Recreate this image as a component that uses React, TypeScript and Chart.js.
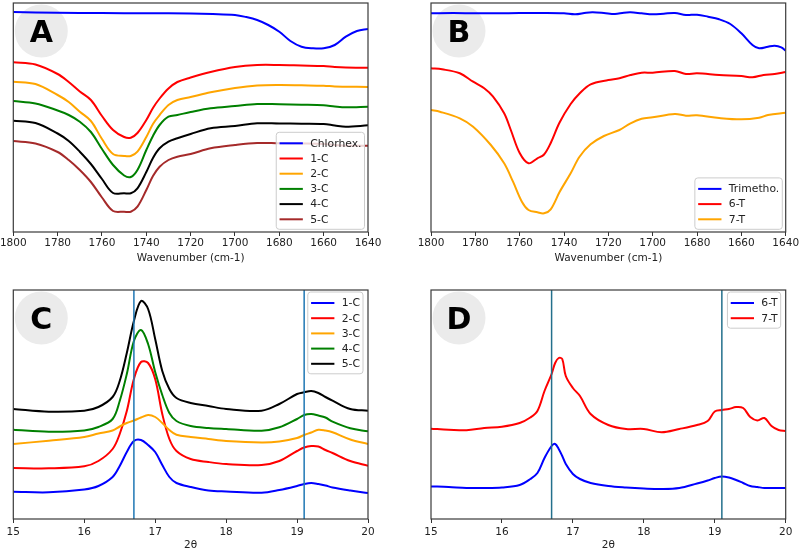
import React, { useEffect, useRef } from "react";
import { Chart, registerables } from "chart.js";
Chart.register(...registerables);

// ---------- Panel A: FTIR, chlorhexidine series ----------
const wnTicks = [1640, 1660, 1680, 1700, 1720, 1740, 1760, 1780, 1800];
const chlorhexWn = [1800, 1780, 1760, 1740, 1720, 1710, 1700, 1695, 1690, 1685, 1680, 1675, 1670, 1665, 1660, 1655, 1650, 1645, 1640];
const chlorhexVals = [220, 219.3, 219, 218.7, 218.5, 218, 217, 215, 212, 207, 200.3, 191, 185.3, 183.7, 183.7, 187, 195.3, 201, 203];
const cWn = [1800, 1790, 1780, 1775, 1770, 1765, 1760, 1755, 1750, 1747, 1744, 1740, 1737, 1734, 1730, 1726, 1720, 1711, 1700, 1690, 1680, 1670, 1660, 1655, 1650, 1640];
const ir1C = [169.7, 167.5, 158, 150, 140.5, 132, 116, 102, 95, 94.3, 99, 112, 124, 133.5, 143.5, 150, 154.5, 160, 165, 167, 167, 166.5, 166, 165, 164.5, 164.3];
const ir2C = [150.3, 148, 137, 130, 120.3, 111, 93, 78, 76, 76, 80.3, 95, 108, 117, 127, 132, 135, 139.7, 144, 146.5, 147, 146.7, 146.3, 145.5, 145.3, 145];
const ir3C = [131, 128.5, 121.5, 117, 110.3, 100, 83, 67, 56.5, 55, 62, 82, 96, 107, 115.3, 117, 120, 123.7, 126, 128, 127.7, 127.3, 126.7, 125.5, 124.7, 125.3];
const ir4C = [111.3, 109, 98.5, 91, 80.3, 68, 53, 39, 38.7, 38.7, 43.7, 60, 74, 83.7, 90.3, 93.7, 98, 103.7, 106, 108.7, 108.5, 108.3, 108, 106.5, 105.3, 106.7];
const ir5C = [91, 88.5, 80, 72, 62, 50, 34.5, 21, 20.3, 20.3, 25.3, 42, 56, 65.3, 72, 75.3, 78, 83.7, 87, 89, 88.7, 88.5, 88, 87, 86.3, 86.3];

// ---------- Panel B: FTIR, trimethoprim series ----------
const trimethoWn = [1800, 1790, 1780, 1770, 1760, 1750, 1740, 1735, 1730, 1727, 1722, 1717, 1713, 1710, 1705, 1700, 1695, 1690, 1685, 1680, 1675, 1670, 1665, 1660, 1655, 1652, 1648, 1645, 1642, 1640];
const trimethoVals = [218.7, 219, 218.7, 218.7, 219, 219, 218.7, 217.7, 219.3, 219.7, 219, 218, 219.3, 219.7, 218.7, 217.7, 218.3, 219, 217, 217.3, 215.3, 212.7, 208, 198.7, 187, 183.7, 185.3, 186.3, 184.7, 181.3];
const t6Wn = [1800, 1795, 1787, 1781, 1776, 1772, 1767, 1764, 1760, 1756, 1752, 1749, 1746, 1742, 1737, 1733, 1728, 1720, 1715, 1710, 1705, 1700, 1690, 1685, 1680, 1670, 1660, 1655, 1650, 1645, 1640];
const ir6T = [163.7, 162.7, 158.7, 150.3, 143.7, 135.3, 118.7, 102, 79, 68.7, 73.7, 77.5, 89, 109.5, 128, 138.5, 147.7, 152, 153.7, 157, 159.3, 159.3, 161, 158, 158.7, 157, 156, 154.7, 157, 158, 160];
const t7Wn = [1800, 1796, 1787, 1781, 1773, 1767, 1763, 1759, 1756, 1752, 1749, 1746, 1742, 1737, 1733, 1728, 1722, 1715, 1710, 1705, 1700, 1690, 1685, 1680, 1670, 1660, 1652, 1648, 1640];
const ir7T = [122, 120.3, 113.7, 105.3, 87, 68.7, 50.3, 30.3, 22, 19.7, 18.7, 22.7, 40, 58.7, 75.3, 87.7, 96, 102, 108.7, 113.3, 114.7, 118, 116.3, 116.7, 114, 112.7, 114.3, 117, 119.3];

// ---------- Panel C: XRD, chlorhexidine series ----------
const thetaTicks = [15, 16, 17, 18, 19, 20];
const refLines = [16.7, 19.1];
const thetaC = [15, 15.5, 16, 16.2, 16.4, 16.5, 16.6, 16.7, 16.8, 16.9, 17, 17.1, 17.2, 17.3, 17.5, 17.75, 18, 18.5, 18.75, 19, 19.1, 19.2, 19.3, 19.4, 19.5, 19.75, 20];
const xrd1C = [27.3, 26.7, 29.5, 33, 42, 53, 67, 78, 79, 74, 67, 54, 42, 36, 32, 28.5, 27.5, 26.3, 29, 33, 35, 36, 35, 33.5, 31.5, 28.5, 26];
const xrd2C = [51, 50.7, 52.7, 58, 70, 85, 108, 140, 157, 156, 140, 105, 80, 68, 60, 57, 55, 54, 58, 68, 71.5, 73, 72.5, 69, 66, 58, 53.3];
const xrd3C = [75, 78.3, 82, 85.5, 88.5, 92.5, 96, 98.5, 101.5, 104, 102, 96, 89, 84.3, 82, 80, 78, 76.5, 77.5, 81, 84, 86.5, 89.3, 88.5, 86.7, 79.5, 75];
const xrd4C = [89.3, 87.3, 88.5, 92, 100, 118, 145, 178, 189, 175, 147, 124, 106, 98, 93, 91, 90, 88.3, 91.7, 100, 104, 105, 103.5, 101.5, 97.3, 90.7, 87.7];
const xrd5C = [110, 107.3, 108.3, 112, 122, 138, 166, 198, 218, 210, 180, 148, 130, 121, 116, 113, 110, 108.3, 115, 125, 126.7, 128, 126, 122, 118.3, 110, 108.3];

// ---------- Panel D: XRD, trimethoprim series ----------
const thetaD = [15, 15.25, 15.5, 15.75, 16, 16.25, 16.4, 16.5, 16.6, 16.7, 16.75, 16.8, 16.85, 16.9, 17, 17.1, 17.25, 17.5, 17.75, 18, 18.25, 18.5, 18.75, 18.9, 19, 19.1, 19.2, 19.3, 19.4, 19.5, 19.6, 19.7, 19.8, 19.9, 20];
const xrd6T = [32.6, 32, 31, 31, 31.6, 34, 40, 46, 61, 73, 75, 70, 63, 55, 45, 40, 36, 33, 31.5, 30.5, 30, 31, 35.5, 38.5, 41, 42.6, 41.5, 39, 36, 33, 32, 31, 31, 31, 31];
const xrd7T = [90.3, 89.3, 88.7, 91, 92.3, 96, 101.5, 108, 128, 145, 156, 161, 160, 143, 131, 123, 105, 94, 90, 90, 86.7, 90, 94, 98, 107.5, 109, 110, 112, 111, 102, 98.6, 101, 93, 89, 88];

const FONT = "'DejaVu Sans', sans-serif";

type Series = { label: string; color: string; xs: number[]; ys: number[] };
type PanelCfg = {
  left: number; top: number;
  pad: { left: number; right: number; top: number };
  axisH: number; tickPad: number; titlePad: number;
  xMin: number; xMax: number; reverse: boolean; ticks: number[]; title: string;
  yMax: number;
  series: Series[];
  vlines?: number[]; vlineColor?: string;
  letter: string;
  legend: { corner: "br" | "tr"; right: number; v: number };
};

const panels: PanelCfg[] = [
  {
    left: 0, top: 0, pad: { left: 13.3, right: 32, top: 3 }, axisH: 44, tickPad: 1, titlePad: 11.7,
    xMin: 1640, xMax: 1800, reverse: true, ticks: wnTicks, title: "Wavenumber (cm-1)", yMax: 229,
    letter: "A", legend: { corner: "br", right: 3.5, v: 2.7 },
    series: [
      { label: "Chlorhex.", color: "#0000ff", xs: chlorhexWn, ys: chlorhexVals },
      { label: "1-C", color: "#ff0000", xs: cWn, ys: ir1C },
      { label: "2-C", color: "#ffa500", xs: cWn, ys: ir2C },
      { label: "3-C", color: "#008000", xs: cWn, ys: ir3C },
      { label: "4-C", color: "#000000", xs: cWn, ys: ir4C },
      { label: "5-C", color: "#a52a2a", xs: cWn, ys: ir5C },
    ],
  },
  {
    left: 400, top: 0, pad: { left: 31, right: 14.3, top: 3 }, axisH: 44, tickPad: 1, titlePad: 11.7,
    xMin: 1640, xMax: 1800, reverse: true, ticks: wnTicks, title: "Wavenumber (cm-1)", yMax: 229,
    letter: "B", legend: { corner: "br", right: 3.4, v: 2.7 },
    series: [
      { label: "Trimetho.", color: "#0000ff", xs: trimethoWn, ys: trimethoVals },
      { label: "6-T", color: "#ff0000", xs: t6Wn, ys: ir6T },
      { label: "7-T", color: "#ffa500", xs: t7Wn, ys: ir7T },
    ],
  },
  {
    left: 0, top: 276, pad: { left: 13.3, right: 32, top: 14 }, axisH: 33, tickPad: 3, titlePad: 0,
    xMin: 15, xMax: 20, reverse: false, ticks: thetaTicks, title: "2θ", yMax: 229,
    letter: "C", legend: { corner: "tr", right: 5, v: 2 }, vlines: refLines, vlineColor: "#1f77b4",
    series: [
      { label: "1-C", color: "#0000ff", xs: thetaC, ys: xrd1C },
      { label: "2-C", color: "#ff0000", xs: thetaC, ys: xrd2C },
      { label: "3-C", color: "#ffa500", xs: thetaC, ys: xrd3C },
      { label: "4-C", color: "#008000", xs: thetaC, ys: xrd4C },
      { label: "5-C", color: "#000000", xs: thetaC, ys: xrd5C },
    ],
  },
  {
    left: 400, top: 276, pad: { left: 31, right: 14.3, top: 14 }, axisH: 33, tickPad: 3, titlePad: 0,
    xMin: 15, xMax: 20, reverse: false, ticks: thetaTicks, title: "2θ", yMax: 229,
    letter: "D", legend: { corner: "tr", right: 5, v: 2 }, vlines: refLines, vlineColor: "#23708c",
    series: [
      { label: "6-T", color: "#0000ff", xs: thetaD, ys: xrd6T },
      { label: "7-T", color: "#ff0000", xs: thetaD, ys: xrd7T },
    ],
  },
];

function decoPlugin(cfg: PanelCfg) {
  return {
    id: "deco" + cfg.letter,
    beforeDatasetsDraw(chart: any) {
      const { ctx, chartArea: a } = chart;
      ctx.save();
      const cx = a.left + 28, cy = a.top + 28;
      ctx.fillStyle = "#ebebeb";
      ctx.beginPath();
      ctx.arc(cx, cy, 26.5, 0, Math.PI * 2);
      ctx.fill();
      ctx.fillStyle = "#000";
      ctx.font = `bold 30px ${FONT}`;
      ctx.textAlign = "center";
      ctx.textBaseline = "alphabetic";
      ctx.fillText(cfg.letter, cx, cy + 11);
      ctx.restore();
    },
    afterDatasetsDraw(chart: any) {
      const { ctx, chartArea: a, scales } = chart;
      ctx.save();
      (cfg.vlines || []).forEach((v) => {
        const x = scales.x.getPixelForValue(v);
        ctx.strokeStyle = cfg.vlineColor;
        ctx.lineWidth = 1.5;
        ctx.beginPath();
        ctx.moveTo(x, a.top);
        ctx.lineTo(x, a.bottom);
        ctx.stroke();
      });
      ctx.strokeStyle = "#3a3a3a";
      ctx.lineWidth = 1.2;
      ctx.strokeRect(a.left, a.top, a.right - a.left, a.bottom - a.top);

      // legend
      ctx.font = `10.8px ${FONT}`;
      const n = cfg.series.length;
      const maxW = Math.max(...cfg.series.map((s) => ctx.measureText(s.label).width));
      const rowH = 15.2;
      const boxW = 3.3 + 23.3 + 7.3 + maxW + 3;
      const boxH = 11 + (n - 1) * rowH + 10;
      const bx = a.right - cfg.legend.right - boxW;
      const by = cfg.legend.corner === "br" ? a.bottom - cfg.legend.v - boxH : a.top + cfg.legend.v;
      ctx.fillStyle = "rgba(255,255,255,0.8)";
      ctx.strokeStyle = "#cccccc";
      ctx.lineWidth = 1;
      ctx.beginPath();
      (ctx as any).roundRect(bx, by, boxW, boxH, 3);
      ctx.fill();
      ctx.stroke();
      cfg.series.forEach((s, i) => {
        const y = by + 11 + i * rowH;
        ctx.strokeStyle = s.color;
        ctx.lineWidth = 2;
        ctx.beginPath();
        ctx.moveTo(bx + 3.3, y);
        ctx.lineTo(bx + 26.6, y);
        ctx.stroke();
        ctx.fillStyle = "#222";
        ctx.textAlign = "left";
        ctx.textBaseline = "middle";
        ctx.fillText(s.label, bx + 33.9, y + 0.5);
      });
      ctx.restore();
    },
  };
}

function Panel({ cfg }: { cfg: PanelCfg }) {
  const ref = useRef<HTMLCanvasElement>(null);
  useEffect(() => {
    const n = cfg.series.length;
    const chart = new Chart(ref.current!, {
      type: "line",
      data: {
        datasets: cfg.series.map((s, i) => ({
          label: s.label,
          data: s.xs.map((x, j) => ({ x, y: s.ys[j] })),
          borderColor: s.color,
          borderWidth: 2,
          pointRadius: 0,
          fill: false,
          tension: 0.35,
          order: n - i,
        })),
      },
      options: {
        responsive: false,
        animation: false,
        devicePixelRatio: 1,
        layout: { padding: { left: cfg.pad.left, right: cfg.pad.right, top: cfg.pad.top, bottom: 0 } },
        plugins: { legend: { display: false }, tooltip: { enabled: false } },
        events: [],
        scales: {
          x: {
            type: "linear",
            min: cfg.xMin,
            max: cfg.xMax,
            reverse: cfg.reverse,
            afterBuildTicks: (s: any) => {
              s.ticks = cfg.ticks.map((v) => ({ value: v }));
            },
            afterFit: (s: any) => {
              s.height = cfg.axisH;
              s.paddingLeft = 0;
              s.paddingRight = 0;
            },
            ticks: {
              callback: (v: any) => String(v),
              font: { family: FONT, size: 10.5 },
              color: "#222",
              padding: cfg.tickPad,
              maxRotation: 0,
              autoSkip: false,
            },
            grid: { drawOnChartArea: false, drawTicks: true, tickLength: 4, tickColor: "#333", tickWidth: 1 },
            border: { display: false },
            title: {
              display: true,
              text: cfg.title,
              font: { family: FONT, size: 10.5 },
              color: "#222",
              padding: { top: 0, bottom: cfg.titlePad },
            },
          },
          y: { type: "linear", display: false, min: 0, max: cfg.yMax },
        },
      } as any,
      plugins: [decoPlugin(cfg)],
    });
    return () => chart.destroy();
  }, [cfg]);
  return (
    <canvas
      ref={ref}
      width={400}
      height={276}
      style={{ position: "absolute", left: cfg.left, top: cfg.top, width: 400, height: 276, display: "block" }}
    />
  );
}

export default function App() {
  return (
    <div style={{ position: "fixed", left: 0, top: 0, width: 800, height: 552, background: "#fff", overflow: "hidden" }}>
      {panels.map((p) => (
        <Panel key={p.letter} cfg={p} />
      ))}
    </div>
  );
}
